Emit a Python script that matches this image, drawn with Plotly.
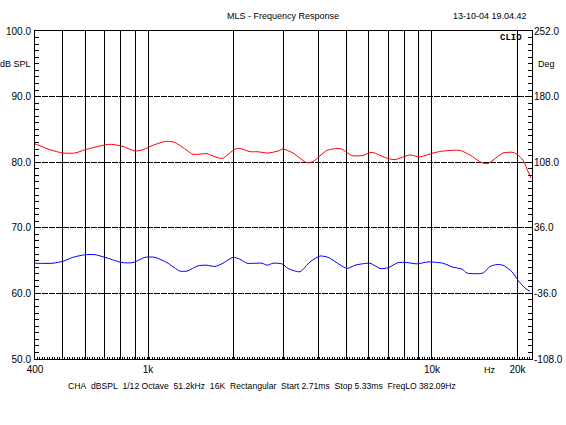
import numpy as np
import plotly.graph_objects as go

# ---------------- data ----------------
red_freq = [400, 452, 502, 553, 600, 717, 753, 817, 900, 960, 1058, 1166, 1245, 1372, 1440,
            1613, 1680, 1793, 1837, 2025, 2108, 2287, 2420, 2646, 2869, 2988, 3241, 3630, 3811,
            4269, 4667, 4822, 5229, 5669, 6149, 6944, 7407, 8366, 9073, 10080, 10930, 12550,
            13610, 15000, 15750, 17780, 19290, 20090, 20920, 21780, 22320]
red_db = [82.8, 81.9, 81.4, 81.4, 81.9, 82.7, 82.7, 82.4, 81.7, 81.9, 82.7, 83.2, 83.0, 81.8, 81.2,
          81.3, 81.0, 80.6, 80.6, 82.0, 82.1, 81.6, 81.6, 81.4, 81.7, 82.0, 81.4, 79.9, 80.1,
          81.8, 82.1, 82.0, 81.0, 81.0, 81.5, 80.6, 80.4, 81.1, 80.8, 81.4, 81.7, 81.8,
          81.1, 79.9, 79.8, 81.4, 81.5, 81.1, 80.3, 78.6, 77.6]

blue_freq = [400, 463, 502, 544, 600, 651, 717, 810, 886, 976, 1058, 1166, 1296, 1372, 1500,
             1613, 1722, 1837, 1992, 2108, 2232, 2520, 2624, 2755, 2964, 3112, 3428, 3719, 4033,
             4303, 5020, 5357, 6049, 6561, 7000, 7592, 8166, 8855, 9681, 10930, 11860, 12760,
             13280, 15120, 16000, 16940, 17780, 19130, 20090, 21270, 22130]
blue_db = [64.6, 64.6, 64.9, 65.5, 65.9, 65.9, 65.4, 64.7, 64.7, 65.5, 65.5, 64.7, 63.4, 63.4, 64.2,
           64.3, 64.1, 64.6, 65.5, 65.2, 64.6, 64.6, 64.3, 64.6, 64.5, 63.8, 63.3, 64.8, 65.7,
           65.5, 63.8, 64.3, 64.6, 63.8, 63.9, 64.7, 64.7, 64.5, 64.8, 64.6, 64.0, 63.7,
           63.1, 63.1, 64.1, 64.4, 64.3, 63.3, 62.0, 60.8, 60.3]

x_grid_vals = [400, 500, 600, 700, 800, 900, 1000, 2000, 3000, 4000, 5000, 6000, 7000, 8000,
               9000, 10000, 20000]
x_grid_text = ["400", "", "", "", "", "", "1k", "", "", "", "", "", "", "", "", "10k", "20k"]

y_left_ticks = [50, 60, 70, 80, 90, 100]
y_right_ticks = [-108, -36, 36, 108, 180, 252]

x_min, x_max = 400, 22500

title_text = "MLS - Frequency Response"
stamp_text = "13-10-04 19.04.42"
info_text = ("CHA\u00a0\u00a0dBSPL\u00a0\u00a01/12 Octave\u00a0\u00a051.2kHz\u00a0\u00a016K\u00a0\u00a0"
             "Rectangular\u00a0\u00a0Start 2.71ms\u00a0\u00a0Stop 5.33ms\u00a0\u00a0FreqLO 382.09Hz")

FONT = "Liberation Sans, Arial, sans-serif"
W, H = 566, 425
ML, MR, MT, MB = 35, 34, 31, 66

fig = go.Figure()
fig.add_trace(go.Scatter(x=red_freq, y=red_db, mode="lines", line=dict(color="#ff0000", width=1,
                         shape="spline", smoothing=0.6), showlegend=False, hoverinfo="skip"))
fig.add_trace(go.Scatter(x=blue_freq, y=blue_db, mode="lines", line=dict(color="#0000ff", width=1,
                         shape="spline", smoothing=0.6), showlegend=False, hoverinfo="skip"))
fig.add_trace(go.Scatter(x=[1000], y=[0], yaxis="y2", mode="markers", marker=dict(opacity=0),
                         showlegend=False, hoverinfo="skip"))
fig.add_trace(go.Scatter(x=[1000], y=[60], xaxis="x2", mode="markers", marker=dict(opacity=0),
                         showlegend=False, hoverinfo="skip"))

xr = [np.log10(x_min), np.log10(x_max)]
fig.update_layout(
    width=W, height=H,
    margin=dict(l=ML, r=MR, t=MT, b=MB, autoexpand=False),
    paper_bgcolor="white", plot_bgcolor="white",
    font=dict(family=FONT, size=10, color="black"),
    hovermode=False,
    xaxis=dict(type="log", range=xr, tickmode="array", tickvals=x_grid_vals, ticktext=x_grid_text,
               showgrid=True, gridcolor="black", gridwidth=1, showline=True, linecolor="black",
               linewidth=1, mirror=True, ticks="", zeroline=False, tickfont=dict(size=10),
               automargin=False, ticklabelstandoff=1),
    xaxis2=dict(type="log", range=xr, overlaying="x", side="bottom", automargin=False,
                tickmode="array", tickvals=list(np.geomspace(x_min, x_max, 200)),
                showticklabels=False, ticks="inside", ticklen=2, tickcolor="black", showgrid=False,
                showline=False, zeroline=False),
    yaxis=dict(range=[50, 100], tickmode="array", tickvals=y_left_ticks,
               ticktext=[f"{v:.1f}" for v in y_left_ticks], automargin=False,
               showgrid=True, gridcolor="black", gridwidth=1, griddash="6px,1px",
               showline=True, linecolor="black", linewidth=1, mirror=True,
               ticks="inside", ticklen=4, tickcolor="black", zeroline=False,
               minor=dict(ticks="inside", dtick=1, ticklen=4, tickcolor="black", showgrid=False),
               tickfont=dict(size=10), ticklabelstandoff=1),
    yaxis2=dict(range=[-108, 252], overlaying="y", side="right", tickmode="array",
                tickvals=y_right_ticks, ticktext=[f"{v:.1f}" for v in y_right_ticks],
                showgrid=False, showline=False, ticks="inside", ticklen=4, tickcolor="black",
                zeroline=False, automargin=False,
                minor=dict(ticks="inside", dtick=7.2, tick0=-108, ticklen=4, tickcolor="black"),
                tickfont=dict(size=10), ticklabelstandoff=1),
)

PW, PH = W - ML - MR, H - MT - MB


def px(xp):
    return (xp - ML) / PW


def py(yp):
    return 1 - (yp - MT) / PH


ann = [
    dict(text=title_text, x=283, y=16, xanchor="center", size=9),
    dict(text=stamp_text, x=490, y=16, xanchor="center", size=9),
    dict(text="dB SPL", x=33, y=64, xanchor="right", size=9),
    dict(text="Deg", x=536, y=64, xanchor="left", size=9),
    dict(text="Hz", x=490, y=370, xanchor="center", size=9),
    dict(text=info_text, x=262, y=386, xanchor="center", size=8.6),
]
for a in ann:
    fig.add_annotation(text=a["text"], xref="paper", yref="paper", x=px(a["x"]), y=py(a["y"]),
                       xanchor=a["xanchor"], yanchor="middle", showarrow=False,
                       font=dict(size=a["size"], family=FONT, color="black"))
fig.add_annotation(text="<b>CLIO</b>", xref="paper", yref="paper",
                   x=px(511), y=py(38), xanchor="center", yanchor="middle", showarrow=False,
                   font=dict(size=9, family="Liberation Mono, Courier New, monospace", color="black"))

fig.write_html("out.html", config={"displayModeBar": False, "staticPlot": True},
               post_script="document.body.style.margin='0';document.body.style.padding='0';")
